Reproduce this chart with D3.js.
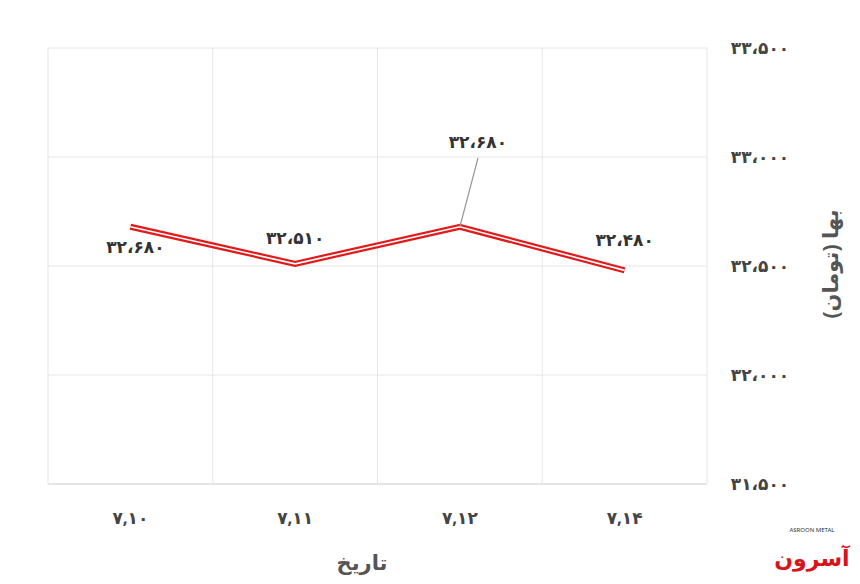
<!DOCTYPE html>
<html><head><meta charset="utf-8">
<script src="https://cdn.jsdelivr.net/npm/d3@7"></script>
<style>body{margin:0;background:#fff}text{font-family:"Noto Sans","DejaVu Sans",sans-serif}</style>
</head><body><svg id="c" width="860" height="584"></svg>
<script>
const categories=["۷,۱۰","۷,۱۱","۷,۱۲","۷,۱۴"];
const values=[32680,32510,32680,32480];
const valueLabels=["۳۲،۶۸۰","۳۲،۵۱۰","۳۲،۶۸۰","۳۲،۴۸۰"];
const yTicks=[31500,32000,32500,33000,33500];
const yTickLabels=["۳۱،۵۰۰","۳۲،۰۰۰","۳۲،۵۰۰","۳۳،۰۰۰","۳۳،۵۰۰"];
const svg=d3.select("#c");
const L=48,R=707,T=48,B=484;
const x=d3.scaleBand().domain(categories).range([L,R]);
const y=d3.scaleLinear().domain([31500,33500]).range([B,T]);
const g=svg.append("g");
g.selectAll(".h").data(yTicks).join("line").attr("x1",L).attr("x2",R).attr("y1",d=>y(d)).attr("y2",d=>y(d)).attr("stroke",d=>d==31500?"#ccc":"#e6e6e6");
const vx=categories.map(c=>x(c)).concat([R]);
g.selectAll(".v").data(vx).join("line").attr("x1",d=>d).attr("x2",d=>d).attr("y1",T).attr("y2",B).attr("stroke","#e6e6e6");
g.selectAll(".yl").data(yTicks).join("text").attr("x",760).attr("y",d=>y(d)+6).attr("text-anchor","middle").attr("font-size",17).attr("font-weight","bold").attr("fill","#444").text((d,i)=>yTickLabels[i]);
g.selectAll(".xl").data(categories).join("text").attr("x",d=>x(d)+x.bandwidth()/2).attr("y",524).attr("text-anchor","middle").attr("font-size",17).attr("font-weight","bold").attr("fill","#444").text(d=>d);
const pts=categories.map((c,i)=>[x(c)+x.bandwidth()/2,y(values[i])]);
const ln=d3.line();
g.append("path").attr("d",ln(pts)).attr("fill","none").attr("stroke","#e21a1a").attr("stroke-width",6);
g.append("path").attr("d",ln(pts)).attr("fill","none").attr("stroke","#fff").attr("stroke-width",1.6);
g.append("line").attr("x1",pts[2][0]).attr("y1",pts[2][1]).attr("x2",478).attr("y2",158).attr("stroke","#999").attr("stroke-width",1.2);
const off=[[5,26],[0,-20],[18,-79],[0,-24]];
g.selectAll(".vl").data(pts).join("text").attr("x",(d,i)=>d[0]+off[i][0]).attr("y",(d,i)=>d[1]+off[i][1]).attr("text-anchor","middle").attr("font-size",17).attr("font-weight","bold").attr("fill","#333").text((d,i)=>valueLabels[i]);
svg.append("text").attr("x",362).attr("y",570).attr("text-anchor","middle").attr("font-size",21).attr("font-weight","bold").attr("fill","#555").text("تاریخ");
svg.append("text").attr("transform","translate(838,264) rotate(-90)").attr("text-anchor","middle").attr("font-size",21).attr("font-weight","bold").attr("fill","#555").text("بها (تومان)");
svg.append("text").attr("x",812).attr("y",566).attr("text-anchor","middle").attr("font-size",22).attr("font-weight","bold").attr("fill","#d7141a").text("آسرون");
svg.append("text").attr("x",812).attr("y",532).attr("text-anchor","middle").attr("font-size",6).attr("fill","#333").text("ASROON METAL");
</script></body></html>
